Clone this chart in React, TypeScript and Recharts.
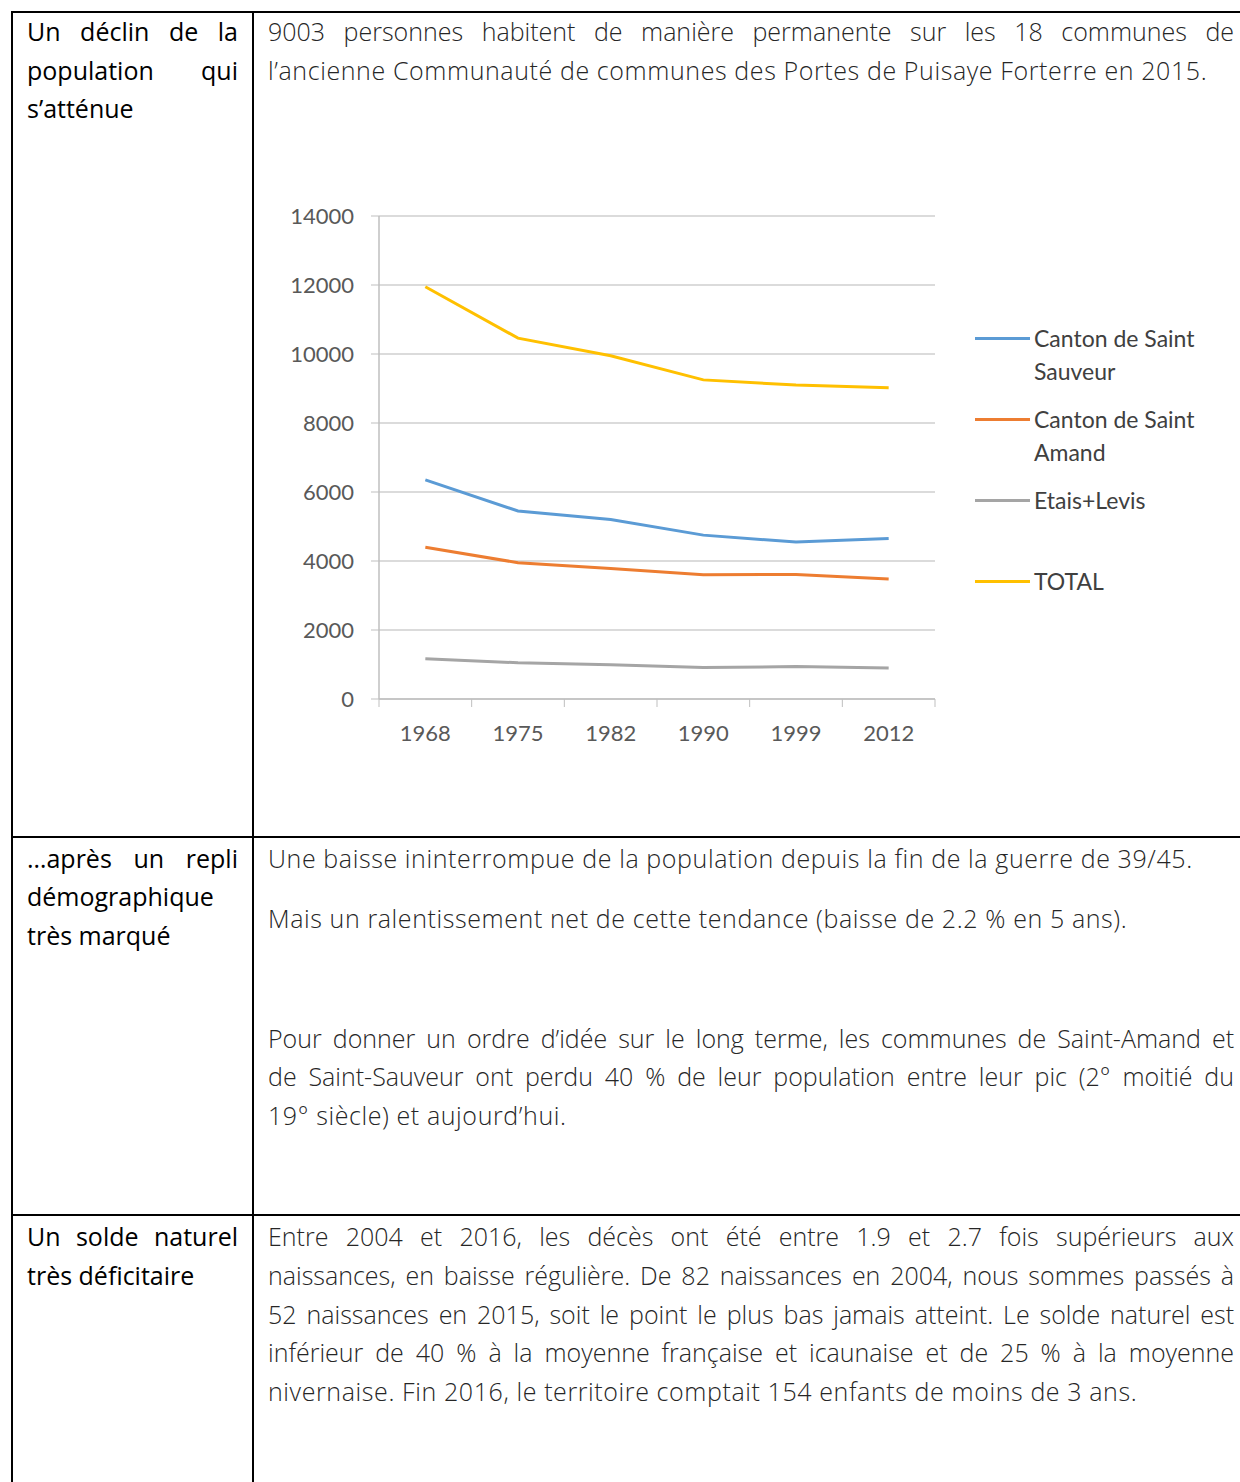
import React from 'react';
import { LineChart, Line, XAxis, YAxis, CartesianGrid, Legend } from 'recharts';

// population by census year
const years = ['1968', '1975', '1982', '1990', '1999', '2012'];
const saintSauveur = [6350, 5450, 5200, 4750, 4550, 4650];
const saintAmand = [4400, 3950, 3780, 3600, 3610, 3480];
const etaisLevis = [1170, 1050, 990, 910, 940, 900];
const total = [11950, 10460, 9950, 9250, 9100, 9020];
const yTicks = [0, 2000, 4000, 6000, 8000, 10000, 12000, 14000];

const seriesNames = ['Canton de Saint Sauveur', 'Canton de Saint Amand', 'Etais+Levis', 'TOTAL'];
const seriesColors = ['#5B9BD5', '#ED7D31', '#A5A5A5', '#FFC000'];
const seriesKeys = ['sauveur', 'amand', 'etais', 'total'];

const chartData = years.map((year, i) => ({
  year,
  sauveur: saintSauveur[i],
  amand: saintAmand[i],
  etais: etaisLevis[i],
  total: total[i],
}));

type TextLine = { text: string; y: number; justify?: boolean };

const leftLines: TextLine[] = [
  { text: 'Un déclin de la', y: 31, justify: true },
  { text: 'population qui', y: 70, justify: true },
  { text: 's’atténue', y: 108 },
  { text: '…après un repli', y: 858, justify: true },
  { text: 'démographique', y: 896 },
  { text: 'très marqué', y: 935 },
  { text: 'Un solde naturel', y: 1236, justify: true },
  { text: 'très déficitaire', y: 1275 },
];

const rightLines: TextLine[] = [
  { text: '9003 personnes habitent de manière permanente sur les 18 communes de', y: 31, justify: true },
  { text: 'l’ancienne Communauté de communes des Portes de Puisaye Forterre en 2015.', y: 70 },
  { text: 'Une baisse ininterrompue de la population depuis la fin de la guerre de 39/45.', y: 858 },
  { text: 'Mais un ralentissement net de cette tendance (baisse de 2.2 % en 5 ans).', y: 918 },
  { text: 'Pour donner un ordre d’idée sur le long terme, les communes de Saint-Amand et', y: 1038, justify: true },
  { text: 'de Saint-Sauveur ont perdu 40 % de leur population entre leur pic (2° moitié du', y: 1076, justify: true },
  { text: '19° siècle) et aujourd’hui.', y: 1115 },
  { text: 'Entre 2004 et 2016, les décès ont été entre 1.9 et 2.7 fois supérieurs aux', y: 1236, justify: true },
  { text: 'naissances, en baisse régulière. De 82 naissances en 2004, nous sommes passés à', y: 1275, justify: true },
  { text: '52 naissances en 2015, soit le point le plus bas jamais atteint. Le solde naturel est', y: 1314, justify: true },
  { text: 'inférieur de 40 % à la moyenne française et icaunaise et de 25 %  à la moyenne', y: 1352, justify: true },
  { text: 'nivernaise. Fin 2016, le territoire comptait 154 enfants de moins de 3 ans.', y: 1391 },
];

const docFont = '"Open Sans", Lato, sans-serif';
const chartFont = 'Lato, "Open Sans", sans-serif';
const axisGray = '#BFBFBF';
const labelGray = '#595959';

function TextBlock({ lines, left, width, weight, color, spacing }: { lines: TextLine[]; left: number; width: number; weight: number; color: string; spacing: number }) {
  return (
    <>
      {lines.map((l) => (
        <div
          key={l.y}
          style={{
            position: 'absolute',
            left,
            top: l.y - 19,
            width,
            height: 38,
            lineHeight: '38px',
            fontSize: 25,
            letterSpacing: l.justify ? 0 : spacing,
            fontFamily: docFont,
            fontWeight: weight,
            color,
            textAlign: l.justify ? 'justify' : 'left',
            textAlignLast: l.justify ? 'justify' : 'left',
          }}
        >
          {l.text}
        </div>
      ))}
    </>
  );
}

// category tick with Excel-style tick marks between categories
function YearTick(props: any) {
  const { x, y, payload, index } = props;
  const half = payload?.offset ?? 0;
  const axisY = y - 26;
  return (
    <g>
      {index === 0 && <line x1={x - half} x2={x - half} y1={axisY} y2={axisY + 8} stroke={axisGray} />}
      <line x1={x + half} x2={x + half} y1={axisY} y2={axisY + 8} stroke={axisGray} />
      <text x={x} y={y + 16} textAnchor="middle" fontSize={22} fill={labelGray} fontFamily={chartFont}>
        {payload.value}
      </text>
    </g>
  );
}

function LegendBox(props: any) {
  const items = [...(props.payload || [])].sort(
    (a: any, b: any) => seriesNames.indexOf(a.value) - seriesNames.indexOf(b.value),
  );
  return (
    <div style={{ fontFamily: chartFont, fontSize: 23, color: '#404040' }}>
      {items.map((entry: any) => (
        <div key={entry.value} style={{ display: 'flex', height: 81 }}>
          <div style={{ width: 55, height: 3, marginTop: 15, background: entry.color, flexShrink: 0 }} />
          <div style={{ width: 200, marginLeft: 4, lineHeight: '33px' }}>{entry.value}</div>
        </div>
      ))}
    </div>
  );
}

function PopulationChart() {
  return (
    <LineChart
      width={970}
      height={580}
      data={chartData}
      margin={{ top: 26, right: 55, left: 0, bottom: 21 }}
    >
      <CartesianGrid horizontal vertical={false} stroke="#CFCFCF" strokeWidth={1.5} />
      <XAxis
        dataKey="year"
        scale="band"
        height={50}
        axisLine={{ stroke: axisGray, strokeWidth: 1.5 }}
        tickLine={false}
        tickSize={8}
        tickMargin={18}
        tick={<YearTick />}
      />
      <YAxis
        width={109}
        domain={[0, 14000]}
        ticks={yTicks}
        interval={0}
        axisLine={{ stroke: axisGray, strokeWidth: 1.5 }}
        tickLine={{ stroke: axisGray }}
        tickSize={8}
        tickMargin={17}
        tick={{ fontSize: 22, fill: labelGray, fontFamily: chartFont }}
      />
      <Legend
        layout="vertical"
        align="right"
        verticalAlign="top"
        width={250}
        content={<LegendBox />}
        wrapperStyle={{ left: 705, top: 132, right: 'auto' }}
      />
      {seriesKeys.map((key, i) => (
        <Line
          key={key}
          type="linear"
          dataKey={key}
          name={seriesNames[i]}
          stroke={seriesColors[i]}
          strokeWidth={3}
          dot={false}
          activeDot={false}
          isAnimationActive={false}
        />
      ))}
    </LineChart>
  );
}

export default function App() {
  return (
    <div style={{ position: 'absolute', left: 0, top: 0, width: 1240, height: 1482, overflow: 'hidden', background: '#fff' }}>
      {/* table borders */}
      <div style={{ position: 'absolute', left: 11, top: 11, width: 1240, height: 2, background: '#000' }} />
      <div style={{ position: 'absolute', left: 11, top: 11, width: 2, height: 1480, background: '#000' }} />
      <div style={{ position: 'absolute', left: 252, top: 11, width: 2, height: 1480, background: '#000' }} />
      <div style={{ position: 'absolute', left: 11, top: 836, width: 1240, height: 2, background: '#000' }} />
      <div style={{ position: 'absolute', left: 11, top: 1214, width: 1240, height: 2, background: '#000' }} />

      <TextBlock lines={leftLines} left={27} width={211} weight={400} color="#000" spacing={0} />
      <TextBlock lines={rightLines} left={268} width={966} weight={300} color="#262626" spacing={0.6} />

      <div style={{ position: 'absolute', left: 270, top: 190 }}>
        <PopulationChart />
      </div>
    </div>
  );
}
